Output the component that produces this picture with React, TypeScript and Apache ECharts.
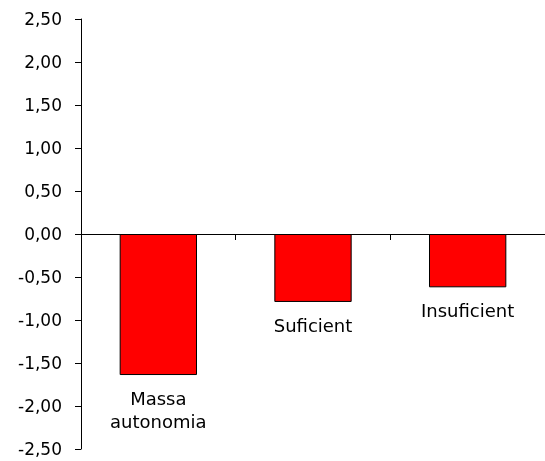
import React, { useEffect, useRef } from "react";
import * as echarts from "echarts";

const categories = ["Massa\nautonomia", "Suficient", "Insuficient"];
const values = [-1.64, -0.79, -0.62];
const yMin = -2.5;
const yMax = 2.5;
const yInterval = 0.5;

export default function App() {
  const ref = useRef<HTMLDivElement>(null);
  useEffect(() => {
    const chart = echarts.init(ref.current!, null, { renderer: "svg" });
    const font = "'DejaVu Sans', sans-serif";
    chart.setOption({
      animation: false,
      grid: { left: 81, right: 0, top: 19, bottom: 12, containLabel: false },
      xAxis: {
        type: "category",
        data: categories,
        axisLine: { onZero: true, lineStyle: { color: "#000", width: 1 } },
        axisTick: { show: true, inside: false, length: 6, lineStyle: { color: "#000" } },
        axisLabel: { show: false },
        splitLine: { show: false },
      },
      yAxis: {
        type: "value",
        min: yMin,
        max: yMax,
        interval: yInterval,
        axisLine: { show: true, lineStyle: { color: "#000", width: 1 } },
        axisTick: { show: true, length: 6, lineStyle: { color: "#000" } },
        axisLabel: {
          color: "#000",
          fontSize: 17,
          fontFamily: font,
          margin: 19,
          formatter: (v: number) => v.toFixed(2).replace(".", ","),
        },
        splitLine: { show: false },
      },
      series: [
        {
          type: "bar",
          data: values,
          barWidth: "50%",
          itemStyle: { color: "#ff0000", borderColor: "#000", borderWidth: 1 },
          label: {
            show: true,
            position: "bottom",
            distance: 12,
            color: "#000",
            fontSize: 18,
            fontFamily: font,
            lineHeight: 23,
            formatter: (p: any) => categories[p.dataIndex],
          },
        },
      ],
    });
    return () => chart.dispose();
  }, []);
  return (
    <div
      ref={ref}
      style={{ position: "fixed", left: 0, top: 0, width: 545, height: 461 }}
    />
  );
}
